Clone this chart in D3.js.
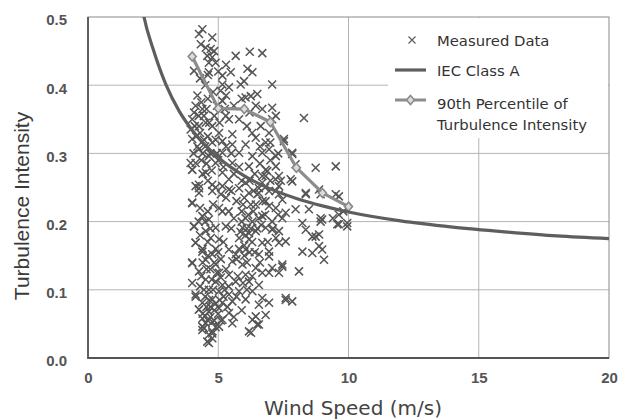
<!DOCTYPE html>
<html><head><meta charset="utf-8">
<script src="https://cdn.jsdelivr.net/npm/d3@7"></script>
<style>html,body{margin:0;padding:0;background:#fff}</style>
</head><body>
<svg id="chart" width="620" height="419"></svg>
<script>
// ---- data ----
const xTicks = [0, 5, 10, 15, 20];
const yTicks = [0.0, 0.1, 0.2, 0.3, 0.4, 0.5];
const legendLabels = ["Measured Data", "IEC Class A", "90th Percentile of", "Turbulence Intensity"];
const xTitle = "Wind Speed (m/s)";
const yTitle = "Turbulence Intensity";

// IEC Class A curve
const iecWS = [2.0, 2.15, 2.5, 3, 3.5, 4, 5, 6, 7, 8, 9, 10, 12, 14, 16, 18, 20];
const iecTI = [0.532, 0.50, 0.453, 0.40, 0.362, 0.334, 0.294, 0.267, 0.248, 0.234, 0.223, 0.214, 0.201, 0.192, 0.185, 0.179, 0.175];

// 90th percentile of turbulence intensity
const p90WS = [4, 5, 6, 7, 8, 9, 10];
const p90TI = [0.442, 0.366, 0.365, 0.346, 0.279, 0.242, 0.222];

// measured data [wind speed, turbulence intensity]
const measured = [
[4.39,0.482],[4.26,0.475],[4.77,0.470],[4.33,0.460],[4.52,0.455],[4.71,0.453],[4.84,0.450],[4.58,0.443],[4.77,0.441],[4.64,0.433],[4.90,0.433],[5.67,0.443],[6.21,0.449],[6.69,0.447],[4.07,0.421],[4.64,0.419],[5.16,0.414],[5.48,0.419],[6.12,0.424],[6.31,0.419],[5.99,0.406],[5.86,0.401],[7.07,0.401],[5.16,0.401],[5.41,0.397],[5.09,0.392],[6.25,0.384],[6.50,0.387],[6.05,0.382],[5.16,0.377],[4.13,0.370],[4.39,0.365],[4.07,0.360],[6.44,0.370],[6.69,0.365],[7.07,0.367],[7.21,0.355],[5.29,0.355],[5.41,0.350],[4.00,0.350],[4.52,0.345],[4.26,0.340],[4.77,0.340],[6.63,0.340],[5.03,0.330],[5.54,0.328],[6.95,0.330],[6.44,0.323],[5.16,0.318],[4.77,0.316],[5.54,0.313],[6.05,0.313],[6.82,0.316],[4.26,0.306],[4.64,0.296],[5.16,0.301],[5.80,0.301],[6.31,0.296],[6.69,0.301],[7.21,0.296],[4.13,0.286],[4.90,0.286],[5.54,0.286],[6.18,0.281],[6.82,0.276],[7.21,0.281],[4.00,0.276],[4.52,0.272],[5.16,0.272],[6.69,0.267],[7.33,0.267],[4.26,0.254],[4.77,0.254],[5.41,0.262],[6.05,0.257],[6.69,0.257],[7.33,0.252],
[4.10,0.340],[4.30,0.330],[4.45,0.355],[4.20,0.310],[4.60,0.325],[4.40,0.300],[4.15,0.325],[4.05,0.300],
[3.94,0.335],[4.00,0.321],[3.94,0.286],[4.00,0.276],[4.13,0.252],[4.26,0.242],[4.00,0.228],
[4.07,0.193],[4.13,0.169],[4.00,0.139],[4.13,0.090],[4.26,0.071],[4.39,0.046],[4.64,0.022],
[4.26,0.249],[4.77,0.245],[5.16,0.252],[5.41,0.247],[5.80,0.249],[6.18,0.242],[6.56,0.249],[6.95,0.245],[7.33,0.240],[4.00,0.227],[5.03,0.220],[5.16,0.215],[6.44,0.225],[6.82,0.230],[7.21,0.220],[4.39,0.208],[4.64,0.203],[6.05,0.205],[6.31,0.200],[6.69,0.208],[7.07,0.200],[7.46,0.205],[4.07,0.193],[4.52,0.186],[4.90,0.191],[5.29,0.193],[5.93,0.191],[6.44,0.186],[6.82,0.191],[7.33,0.186],[4.13,0.169],[4.71,0.176],[5.03,0.174],[5.80,0.176],[6.18,0.174],[6.69,0.169],[7.21,0.176],[7.59,0.171],[4.39,0.156],[4.77,0.152],[5.41,0.159],[5.67,0.152],[6.05,0.159],[6.56,0.152],[6.95,0.156],[4.00,0.140],[4.52,0.144],[4.90,0.137],[5.54,0.142],[5.93,0.137],[6.44,0.132],[7.07,0.132],[7.46,0.137],[4.26,0.127],[5.03,0.125],[5.41,0.122],[6.05,0.122],[6.69,0.125],[7.33,0.125],[4.00,0.110],[4.52,0.115],[4.90,0.112],[5.16,0.107],[5.67,0.112],[6.18,0.112],[6.56,0.107],[7.59,0.085],[4.13,0.093],[4.64,0.100],[5.03,0.098],[5.41,0.093],[5.80,0.098],[6.31,0.098],[6.69,0.088],[4.39,0.081],[4.77,0.086],[5.16,0.081],[5.54,0.083],[6.05,0.086],[6.56,0.078],[6.95,0.081],[4.26,0.071],[4.64,0.068],[5.03,0.073],[5.41,0.066],[6.44,0.061],[6.82,0.063],[4.39,0.058],[4.77,0.053],[5.16,0.056],[5.54,0.051],[6.18,0.039],[6.56,0.049],[4.45,0.044],[4.77,0.039],[5.03,0.046],[4.64,0.034],[4.58,0.024],[4.77,0.029],
[8.29,0.352],[8.74,0.279],[9.51,0.281],[9.63,0.237],[8.99,0.203],[9.57,0.196],[9.95,0.193],[9.63,0.210],[8.36,0.188],[8.61,0.178],[8.23,0.156],[8.87,0.164],[9.06,0.144],[8.10,0.127],[8.36,0.242],[7.97,0.218],[7.59,0.213],[7.84,0.259],[6.82,0.267],[7.46,0.232],[7.33,0.169],[7.07,0.188],[6.95,0.149],[7.46,0.134],[6.95,0.125],[8.87,0.247],[7.52,0.321],[7.84,0.301],[7.97,0.284],[7.07,0.350],[7.00,0.316],[8.48,0.218],
[7.59,0.088],[7.84,0.083],[8.61,0.154],[8.87,0.181],[8.93,0.200],[9.95,0.198],[8.99,0.159],[6.26,0.037],[6.50,0.049],[6.31,0.056],[4.39,0.041],[4.77,0.036],[4.52,0.051],
[7.84,0.299],[7.78,0.262],[8.36,0.240],[8.93,0.240],[9.51,0.240],[8.93,0.205],[9.63,0.196],[7.52,0.318],[6.95,0.306],[6.88,0.274],[7.20,0.262],[6.56,0.242],[6.95,0.223],[8.23,0.198],[8.74,0.178],[6.18,0.183],[9.80,0.215],[9.40,0.205],
[4.50,0.310],[4.70,0.300],[4.90,0.320],[5.00,0.290],[5.20,0.280],[5.30,0.310],[5.50,0.300],[5.60,0.270],[5.80,0.280],[5.90,0.260],[4.40,0.270],[4.60,0.260],[4.90,0.250],[5.10,0.240],[5.30,0.235],[5.50,0.245],[5.70,0.230],[4.30,0.220],[4.60,0.215],[4.80,0.225],[5.40,0.215],[5.60,0.205],[5.90,0.215],[6.00,0.235],[6.20,0.260],[6.40,0.270],[6.60,0.285],[6.50,0.240],[6.80,0.250],[7.00,0.260],[7.20,0.245],[7.40,0.260],[7.00,0.290],[7.30,0.300],[6.60,0.310],[6.30,0.330],[6.10,0.340],[5.80,0.350],[5.60,0.370],[5.90,0.380],[6.20,0.360],[5.30,0.385],[4.95,0.370],[4.80,0.390],[4.50,0.400],[4.30,0.410],[4.20,0.385],[4.60,0.415],[5.00,0.420],[5.30,0.430],
[5.90,0.200],[6.10,0.190],[6.30,0.170],[6.00,0.165],[6.40,0.155],[5.70,0.145],[6.10,0.140],[6.30,0.120],[6.60,0.140],[6.90,0.170],[7.10,0.190],[6.80,0.210],[6.50,0.190],[7.30,0.210],[6.70,0.230],[5.50,0.190],[5.20,0.170],[4.90,0.160],[4.70,0.130],[4.40,0.140],[4.30,0.180],[4.60,0.170],[5.10,0.145],[5.30,0.130],[4.80,0.100],[4.90,0.080],[5.00,0.065],[4.50,0.090],[4.30,0.105],[5.20,0.090],[5.40,0.105],[5.70,0.090],[5.90,0.070],[5.60,0.060],[4.60,0.055],[4.40,0.065],[4.90,0.045],[5.10,0.055],[4.70,0.075],[5.35,0.075],
[4.35,0.120],[4.55,0.130],[4.75,0.115],[4.95,0.125],[5.10,0.118],[4.45,0.100],[4.65,0.085],[4.85,0.070],[5.05,0.085],[4.55,0.075],[4.70,0.060],[4.85,0.055],[4.50,0.062],[5.25,0.100],[4.40,0.160],[4.60,0.150],[4.85,0.140],[5.00,0.155],[4.25,0.200],[4.50,0.200],[4.70,0.190],
[4.35,0.290],[4.55,0.285],[4.75,0.275],[4.45,0.320],[4.65,0.345],[4.85,0.355],[4.35,0.375],[4.60,0.380],[4.25,0.355],[4.55,0.365],[4.95,0.300],[5.05,0.345],[5.25,0.365],
[5.85,0.185],[6.05,0.180],[6.25,0.190],[6.15,0.210],[6.35,0.215],[6.55,0.205],[6.25,0.225],[5.95,0.225],[6.35,0.245],[6.65,0.195],[6.00,0.150],[6.20,0.155],[5.80,0.160],[5.75,0.120],[5.95,0.110],[6.10,0.100]
];

// ---- drawing ----
const svg = d3.select("#chart");
const x = d3.scaleLinear().domain([0, 20]).range([88, 609]);
const y = d3.scaleLinear().domain([0, 0.5]).range([358, 17]);
const X0 = x(0), X1 = x(20), Y0 = y(0), Y1 = y(0.5);

svg.append("defs").append("clipPath").attr("id", "plotclip")
  .append("rect").attr("x", X0).attr("y", Y1).attr("width", X1 - X0).attr("height", Y0 - Y1);

// grid
const grid = svg.append("g");
grid.selectAll("line.vx").data(xTicks.filter(d => d > 0 && d < 20)).join("line")
  .attr("x1", d => x(d)).attr("x2", d => x(d)).attr("y1", Y1).attr("y2", Y0)
  .attr("stroke", "#b4b4b4").attr("stroke-width", 1);
grid.selectAll("line.hy").data(yTicks.filter(d => d > 0 && d < 0.5)).join("line")
  .attr("y1", d => y(d)).attr("y2", d => y(d)).attr("x1", X0).attr("x2", X1)
  .attr("stroke", "#b4b4b4").attr("stroke-width", 1);

// legend background
svg.append("rect").attr("x", 388).attr("y", Y1 + 1).attr("width", X1 - 389).attr("height", 120).attr("fill", "#fff");

// frame
svg.append("rect").attr("x", X0).attr("y", Y1).attr("width", X1 - X0).attr("height", Y0 - Y1)
  .attr("fill", "none").attr("stroke", "#8a8a8a").attr("stroke-width", 1);
svg.append("path").attr("d", `M${X0},${Y1}V${Y0}H${X1}`).attr("fill", "none")
  .attr("stroke", "#555").attr("stroke-width", 1.8);

const plot = svg.append("g").attr("clip-path", "url(#plotclip)");

// scatter crosses
const s = 4;
plot.selectAll("path.pt").data(measured).join("path")
  .attr("d", d => `M${x(d[0]) - s},${y(d[1]) - s}L${x(d[0]) + s},${y(d[1]) + s}M${x(d[0]) - s},${y(d[1]) + s}L${x(d[0]) + s},${y(d[1]) - s}`)
  .attr("stroke", "#555").attr("stroke-width", 1.5).attr("fill", "none");

// 90th percentile line
const p90 = p90WS.map((v, i) => [v, p90TI[i]]);
plot.append("path").datum(p90)
  .attr("d", d3.line().x(d => x(d[0])).y(d => y(d[1])))
  .attr("fill", "none").attr("stroke", "#8c8c8c").attr("stroke-width", 3.2).attr("stroke-linejoin", "round");
plot.selectAll("path.dia").data(p90).join("path")
  .attr("d", d => `M${x(d[0])},${y(d[1]) - 4.5}L${x(d[0]) + 4},${y(d[1])}L${x(d[0])},${y(d[1]) + 4.5}L${x(d[0]) - 4},${y(d[1])}Z`)
  .attr("fill", "#dcdcdc").attr("stroke", "#8a8a8a").attr("stroke-width", 1.6);

// IEC curve
const iec = iecWS.map((v, i) => [v, iecTI[i]]);
plot.append("path").datum(iec)
  .attr("d", d3.line().curve(d3.curveMonotoneX).x(d => x(d[0])).y(d => y(d[1])))
  .attr("fill", "none").attr("stroke", "#5e5e5e").attr("stroke-width", 3.2);

// axes
const yAxis = svg.append("g").attr("transform", `translate(${X0},0)`)
  .call(d3.axisLeft(y).tickValues(yTicks).tickFormat(d3.format(".1f")).tickSize(0).tickPadding(21));
const xAxis = svg.append("g").attr("transform", `translate(0,${Y0})`)
  .call(d3.axisBottom(x).tickValues(xTicks).tickFormat(d3.format("d")).tickSize(0).tickPadding(14));
[yAxis, xAxis].forEach(a => {
  a.select(".domain").remove();
  a.selectAll("text").attr("font-family", "'Liberation Sans', Arial, sans-serif")
    .attr("font-size", 15).attr("font-weight", "bold").attr("fill", "#555");
});
yAxis.selectAll("text").attr("dy", "0.52em");

// titles
svg.append("text").attr("transform", "translate(29,206) rotate(-90)")
  .attr("text-anchor", "middle").attr("font-family", "'Liberation Sans', Arial, sans-serif")
  .attr("font-size", 21).attr("fill", "#3a3a3a").text(yTitle);
svg.append("text").attr("x", 353).attr("y", 415).attr("text-anchor", "middle")
  .attr("font-family", "'DejaVu Sans', Verdana, sans-serif").attr("font-size", 20)
  .attr("fill", "#444").text(xTitle);

// legend
const lg = svg.append("g").attr("font-family", "'DejaVu Sans', Verdana, sans-serif")
  .attr("font-size", 14.8).attr("fill", "#333");
const lx = 437;
lg.append("text").attr("x", lx).attr("y", 46).text(legendLabels[0]);
lg.append("text").attr("x", lx).attr("y", 76).text(legendLabels[1]);
lg.append("text").attr("x", lx).attr("y", 109).text(legendLabels[2]);
lg.append("text").attr("x", lx).attr("y", 130).text(legendLabels[3]);
const ms = 3.5;
lg.append("path").attr("d", `M${412 - ms},${40 - ms}L${412 + ms},${40 + ms}M${412 - ms},${40 + ms}L${412 + ms},${40 - ms}`)
  .attr("stroke", "#5e5e5e").attr("stroke-width", 1.2);
lg.append("line").attr("x1", 395).attr("x2", 426).attr("y1", 70).attr("y2", 70)
  .attr("stroke", "#5e5e5e").attr("stroke-width", 3.2);
lg.append("line").attr("x1", 395).attr("x2", 426).attr("y1", 100).attr("y2", 100)
  .attr("stroke", "#8c8c8c").attr("stroke-width", 3);
lg.append("path").attr("d", `M410.5,95.5L414.5,100L410.5,104.5L406.5,100Z`)
  .attr("fill", "#dcdcdc").attr("stroke", "#8a8a8a").attr("stroke-width", 1.6);
</script>
</body></html>
